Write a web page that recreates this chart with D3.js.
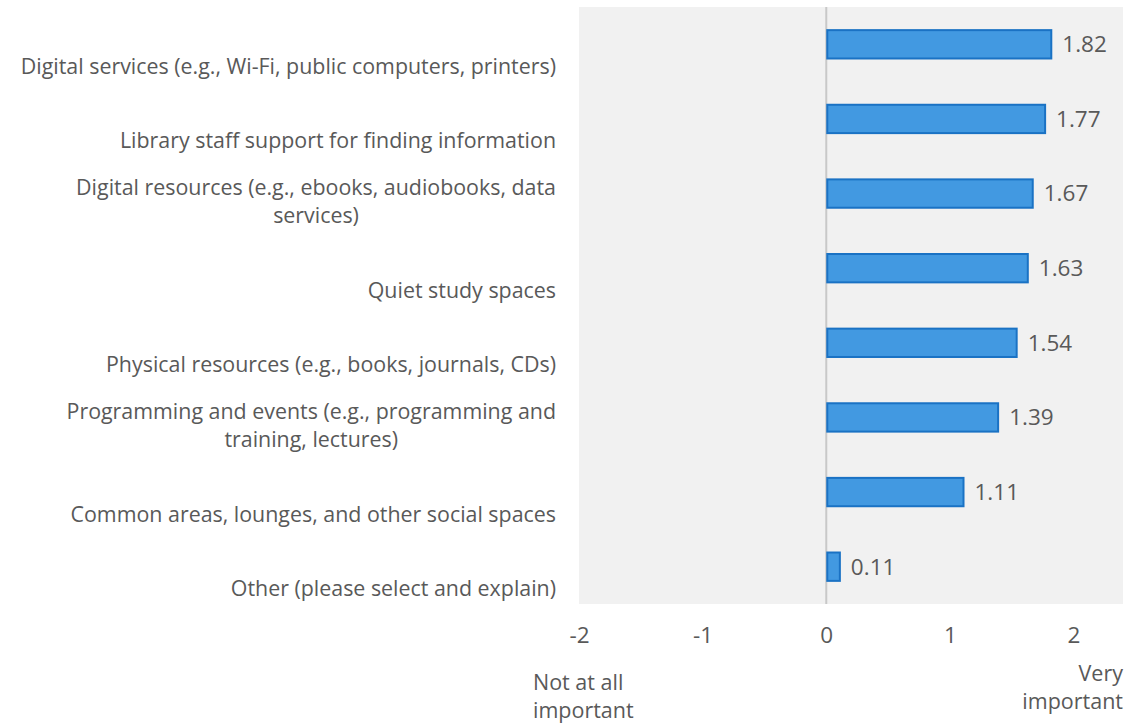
<!DOCTYPE html>
<html>
<head>
<meta charset="utf-8">
<script src="https://cdn.jsdelivr.net/npm/d3@7"></script>
<style>
  html, body { margin: 0; padding: 0; background: #ffffff; }
  svg { display: block; }
  text { font-family: "Open Sans", "Noto Sans", sans-serif; fill: #595959; }
</style>
</head>
<body>
<svg id="chart" width="1131" height="723"></svg>
<script>
const categories = [
  ["Digital services (e.g., Wi-Fi, public computers, printers)"],
  ["Library staff support for finding information"],
  ["Digital resources (e.g., ebooks, audiobooks, data", "services)"],
  ["Quiet study spaces"],
  ["Physical resources (e.g., books, journals, CDs)"],
  ["Programming and events (e.g., programming and", "training, lectures)"],
  ["Common areas, lounges, and other social spaces"],
  ["Other (please select and explain)"]
];
const values = [1.82, 1.77, 1.67, 1.63, 1.54, 1.39, 1.11, 0.11];
const tickValues = [-2, -1, 0, 1, 2];
const scaleEnds = [["Not at all", "important"], ["Very", "important"]];

const svg = d3.select("#chart");
const plot = { left: 579, right: 1123, top: 7, bottom: 604 };
const fsLabel = 21.4;
const fsNum = 22.5;
const fsEnd = 21.5;

const x = d3.scaleLinear().domain([-2, 2.4]).range([plot.left, plot.right]);
const y = d3.scaleBand().domain(d3.range(categories.length))
  .range([plot.top, plot.bottom]).paddingInner(0.62).paddingOuter(0.31);

svg.append("rect")
  .attr("x", plot.left).attr("y", plot.top)
  .attr("width", plot.right - plot.left).attr("height", plot.bottom - plot.top)
  .attr("fill", "#f1f1f1");

svg.append("line")
  .attr("x1", x(0)).attr("x2", x(0))
  .attr("y1", plot.top).attr("y2", plot.bottom)
  .attr("stroke", "#c8c8c8").attr("stroke-width", 2);

svg.append("g").selectAll("rect").data(values).join("rect")
  .attr("x", d => x(0) + 1)
  .attr("y", (d, i) => y(i))
  .attr("width", d => x(d) - x(0) - 1)
  .attr("height", y.bandwidth())
  .attr("fill", "#4299e1")
  .attr("stroke", "#1a72c4")
  .attr("stroke-width", 2);

svg.append("g").selectAll("text").data(values).join("text")
  .attr("x", d => x(d) + 11)
  .attr("y", (d, i) => y(i) + y.bandwidth() / 2)
  .attr("dy", "0.35em")
  .attr("font-size", fsNum)
  .text(d => d.toFixed(2));

// category labels (bottom-anchored lines)
const lineH = 28;
const labelRight = 556;
const lab = svg.append("g");
categories.forEach((lines, i) => {
  const cy = y(i) + y.bandwidth() / 2 + 22;
  const t = lab.append("text")
    .attr("text-anchor", "end")
    .attr("font-size", fsLabel);
  lines.forEach((ln, j) => {
    const ly = cy - (lines.length - 1 - j) * lineH;
    t.append("tspan").attr("x", labelRight).attr("y", ly).attr("dy", "0.35em").text(ln);
  });
});

// center wrapped lines under the first line
lab.selectAll("text").each(function() {
  const spans = d3.select(this).selectAll("tspan").nodes();
  if (spans.length > 1) {
    const w0 = spans[0].getComputedTextLength();
    const mid = labelRight - w0 / 2;
    d3.select(this).attr("text-anchor", "middle");
    spans.forEach(s => d3.select(s).attr("x", mid));
  }
});

// x axis tick labels
const xAxis = d3.axisBottom(x).tickValues(tickValues).tickSize(0).tickPadding(0)
  .tickFormat(d => d < 0 ? "-" + Math.abs(d) : String(d));
const ax = svg.append("g").attr("transform", `translate(0, 635)`).call(xAxis);
ax.select(".domain").remove();
ax.selectAll("text").attr("font-size", fsNum).attr("dy", "0.35em")
  .attr("fill", "#595959").style("font-family", '"Open Sans", "Noto Sans", sans-serif');

// scale end labels
const endH = 28;
const left = svg.append("text").attr("font-size", fsEnd).attr("text-anchor", "start");
left.append("tspan").attr("x", 533).attr("y", 682).attr("dy", "0.35em").text(scaleEnds[0][0]);
left.append("tspan").attr("x", 533).attr("y", 682 + endH).attr("dy", "0.35em").text(scaleEnds[0][1]);
const right = svg.append("text").attr("font-size", fsEnd).attr("text-anchor", "end");
right.append("tspan").attr("x", 1123).attr("y", 673).attr("dy", "0.35em").text(scaleEnds[1][0]);
right.append("tspan").attr("x", 1123).attr("y", 673 + endH).attr("dy", "0.35em").text(scaleEnds[1][1]);
</script>
</body>
</html>
